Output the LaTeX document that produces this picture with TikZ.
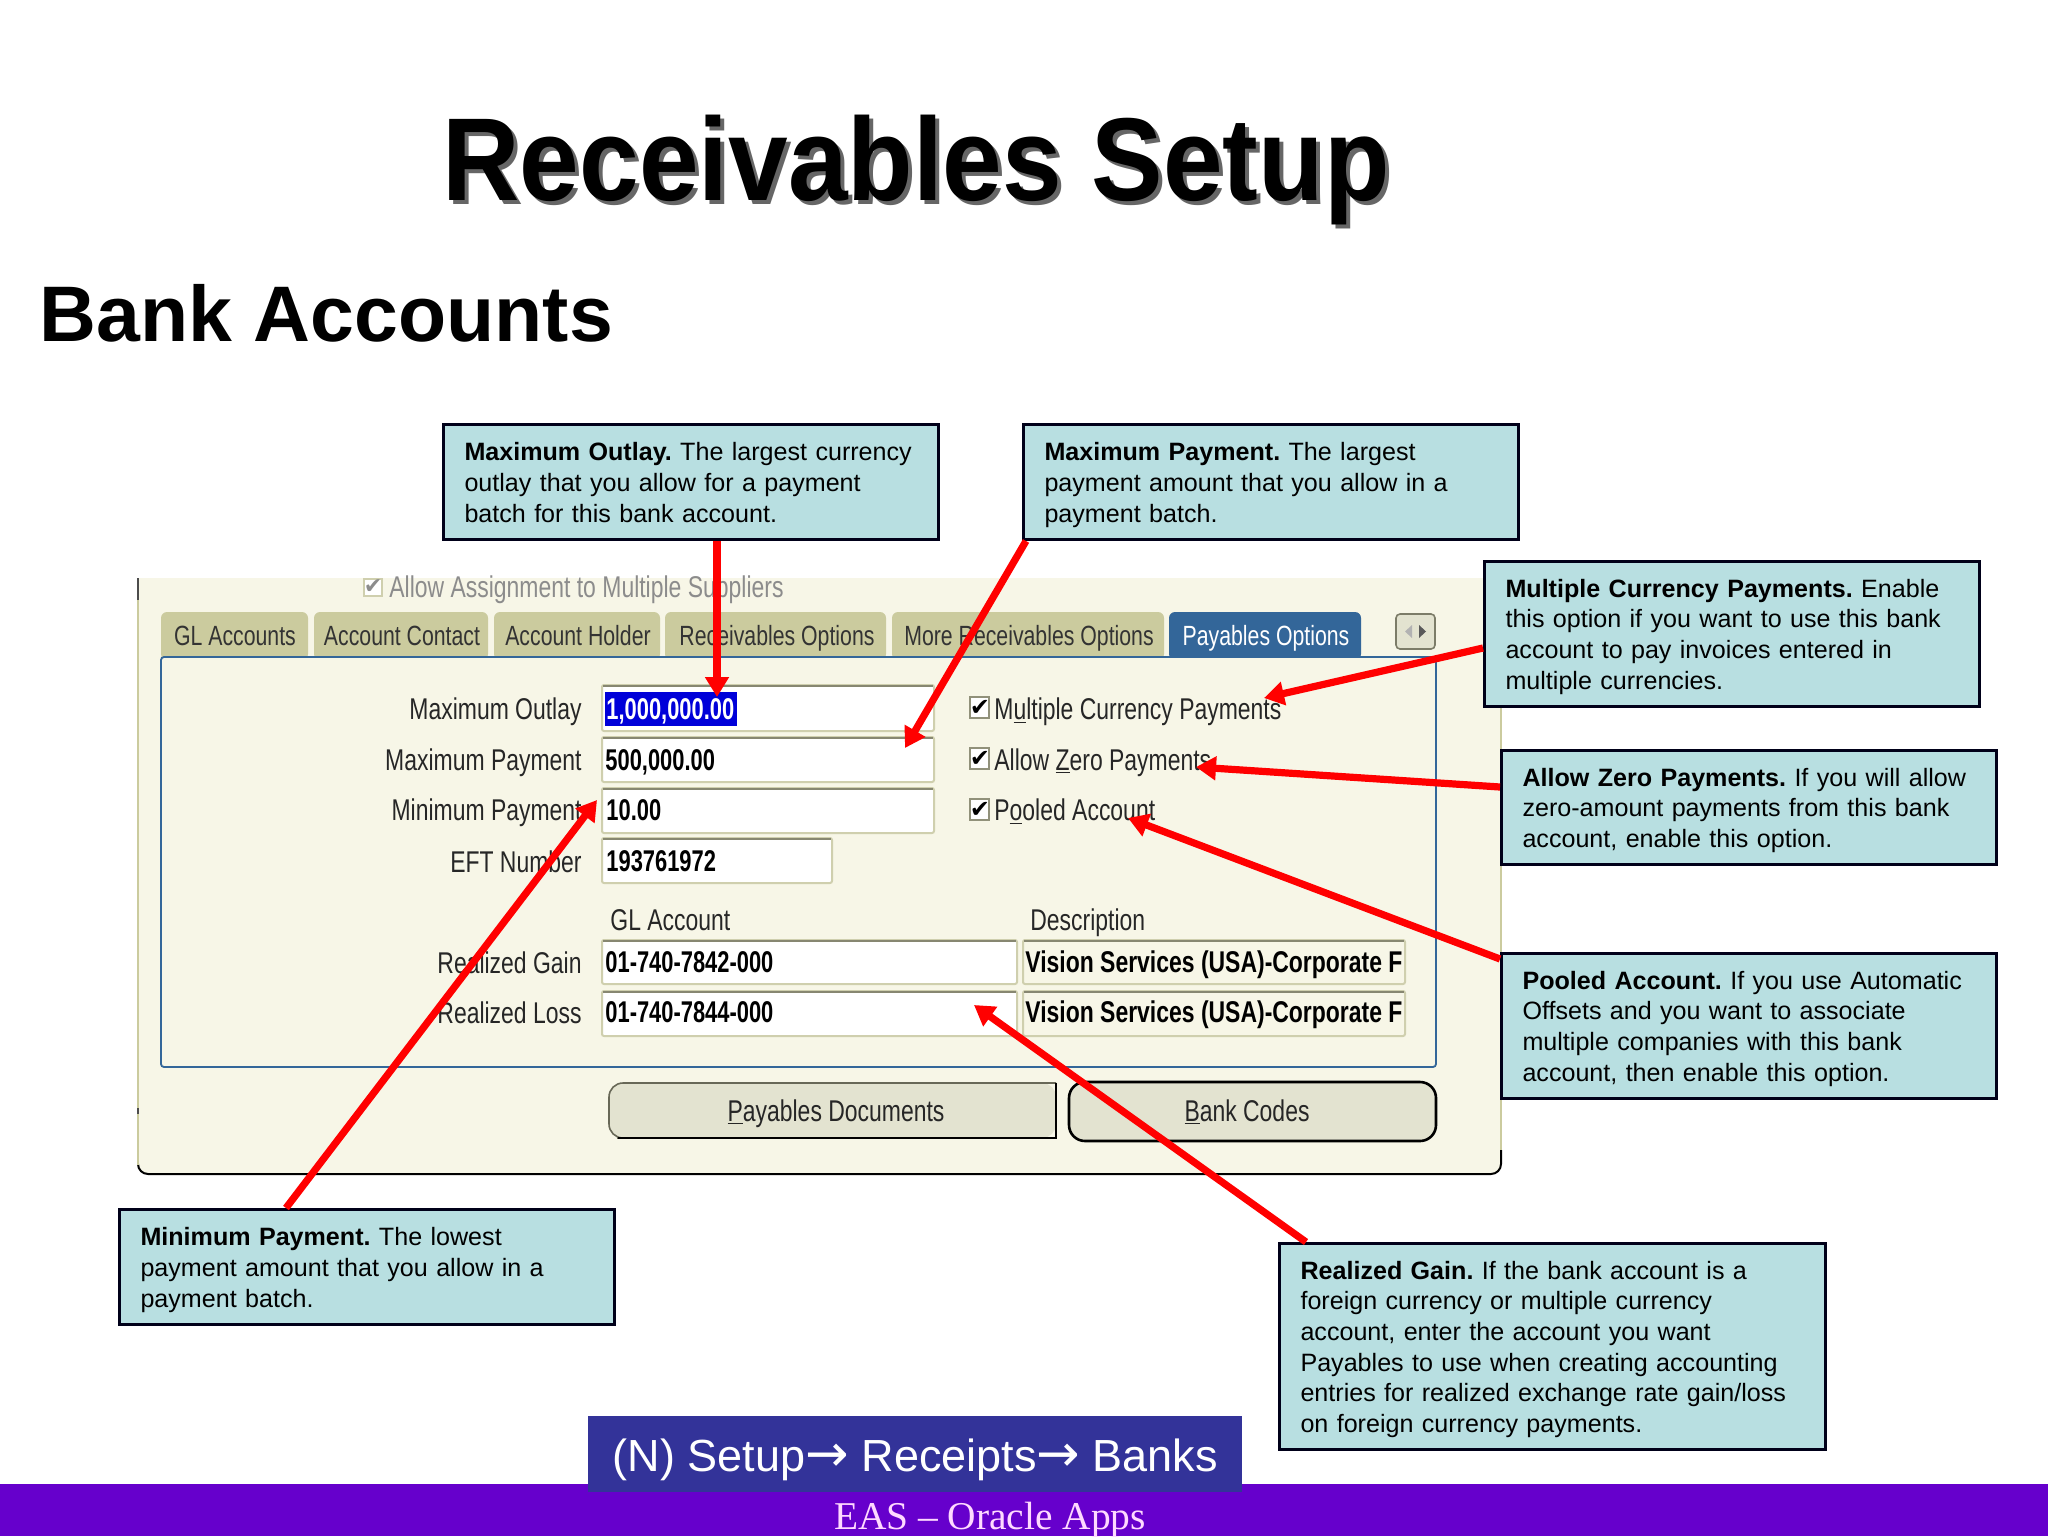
\documentclass[tikz,border=0pt]{standalone}
\usepackage{fontspec}
\setmainfont{Liberation Sans}
\newfontfamily\uif[FakeStretch=0.765]{Liberation Sans}
\newfontfamily\uib[FakeStretch=0.73]{Liberation Sans Bold}
\newfontfamily\uibw[FakeStretch=0.765]{Liberation Sans Bold}
\newfontfamily\serf{Liberation Serif}
\newfontfamily\arrowf{DejaVu Sans}
\usetikzlibrary{arrows.meta,calc}
\definecolor{win}{HTML}{F7F6E7}
\definecolor{tabc}{HTML}{CBCB9E}
\definecolor{blu}{HTML}{336699}
\definecolor{fld}{HTML}{CFCFAE}
\definecolor{btn}{HTML}{E3E3D0}
\definecolor{call}{HTML}{B8DFE1}
\definecolor{navb}{HTML}{333399}
\definecolor{purp}{HTML}{6600CC}
\definecolor{pinkt}{HTML}{FFD9FF}
\newcommand{\lastline}{\rule[-4.2pt]{0pt}{1pt}}
\newcommand{\firstline}{\rule{0pt}{13.5pt}}
\tikzset{
  x=0.5pt,y=-0.5pt,
  callout/.style={draw=black!90!blue,line width=1.5pt,fill=call,anchor=north west,inner xsep=10.5pt,inner ysep=0pt,align=left,minimum width=247.5pt,text width=226.5pt,font=\fontsize{12.55}{15.35}\selectfont\frenchspacing},
  pointer/.style={draw=red,line width=3.6pt,-{Triangle[length=10pt,width=11.5pt]}},
  uilabel/.style={font=\uif\fontsize{15}{18}\selectfont,text=black!85,inner sep=0pt},
  uivalue/.style={font=\uib\fontsize{15}{18}\selectfont,text=black,inner sep=0pt,anchor=base west},
  tabtext/.style={font=\uif\fontsize{13.9}{17}\selectfont,text=black!80,inner sep=0pt,anchor=base},
  tabbox/.style={fill=tabc,rounded corners=3pt},
  fieldbox/.style={draw=fld,line width=1pt,fill=white,rounded corners=1pt},
  topedge/.style={draw=black!35!fld,line width=1pt},
  checkb/.style={draw=fld,line width=.8pt,fill=white},
}
\begin{document}
\begin{tikzpicture}
\useasboundingbox (0,0) rectangle (2048,1536);
\fill[white] (0,0) rectangle (2048,1536);
% titles
\node[text=black!60,font=\bfseries\fontsize{53.6}{60}\selectfont,inner sep=0pt,anchor=base west] (titleshadow) at (446,204) {\scalebox{1}[1.1]{Receivables Setup}};
\node[text=black,font=\bfseries\fontsize{53.6}{60}\selectfont,inner sep=0pt,anchor=base west] (title) at (442,200) {\scalebox{1}[1.1]{Receivables Setup}};
\node[text=black,font=\bfseries\fontsize{39.4}{45}\selectfont,inner sep=0pt,anchor=base west] (subtitle) at (39,341) {Bank Accounts};
% window
\path[fill=win,rounded corners=5pt] (138,578) -- (1501,578) -- (1501,1174) -- (138,1174) -- cycle;
\fill[win] (138,578) rectangle (1501,600);
\draw[black,line width=1pt,rounded corners=5pt] (138,1165) -- (138,1174) -- (1501,1174) -- (1501,1150);
\draw[tabc,line width=.8pt] (138,600) -- (138,1165);
\draw[black!70,line width=1pt] (138,578) -- (138,600);
\draw[black!70,line width=1pt] (138,1108) -- (138,1114);
\draw[tabc,line width=.8pt] (1501,578) -- (1501,1150);
% allow assignment
\path[fill=white,draw=fld,line width=.6pt] (364,579) rectangle (382,596);
\node[inner sep=0pt,text=black!45,font=\arrowf\fontsize{11}{11}\selectfont] (allowcheck) at (373,587) {✔};
\node[uilabel,text=black!45,anchor=base west] (allow) at (389,597) {Allow Assignment to Multiple Suppliers};
% tabs
\path[tabbox] (161,660) -- (161,612) -- (308,612) -- (308,660) -- cycle;
\path[tabbox] (314,660) -- (314,612) -- (488,612) -- (488,660) -- cycle;
\path[tabbox] (494,660) -- (494,612) -- (660,612) -- (660,660) -- cycle;
\path[tabbox] (665,660) -- (665,612) -- (886,612) -- (886,660) -- cycle;
\path[tabbox] (892,660) -- (892,612) -- (1164,612) -- (1164,660) -- cycle;
\path[tabbox,fill=blu] (1169,660) -- (1169,612) -- (1361,612) -- (1361,660) -- cycle;
\fill[win] (161,657) rectangle (1436,664);
\node[tabtext] (tab1) at (235,645) {GL Accounts};
\node[tabtext] (tab2) at (402,645) {Account Contact};
\node[tabtext] (tab3) at (578,645) {Account Holder};
\node[tabtext] (tab4) at (777,645) {Receivables Options};
\node[tabtext] (tab5) at (1029,645) {More Receivables Options};
\node[tabtext,text=white] (tab6) at (1266,645) {Payables Options};
\path[fill=btn,draw=black!40!fld,line width=.8pt,rounded corners=2pt] (1396,614) rectangle (1435,649);
\fill[black!30] (1412,625) -- (1412,638) -- (1405,631.5) -- cycle;
\fill[black!65] (1419,625) -- (1419,638) -- (1426,631.5) -- cycle;
% panel
\draw[blu,line width=.9pt,rounded corners=1.5pt] (161,657) -- (161,1067) -- (1436,1067) -- (1436,657) -- cycle;
% fields
\path[fieldbox] (602,685) rectangle (934,731); \draw[topedge] (603,686) -- (933,686);
\path[fieldbox] (602,737) rectangle (934,782); \draw[topedge] (603,738) -- (933,738);
\path[fieldbox] (602,788) rectangle (934,833); \draw[topedge] (603,789) -- (933,789);
\path[fieldbox] (602,838) rectangle (832,883); \draw[topedge] (603,839) -- (831,839);
\path[fieldbox] (602,940) rectangle (1017,984); \draw[topedge] (603,941) -- (1016,941);
\path[fieldbox] (602,991) rectangle (1017,1036); \draw[topedge] (603,992) -- (1016,992);
\path[fieldbox,fill=win] (1023,940) rectangle (1405,984); \draw[topedge] (1024,941) -- (1404,941);
\path[fieldbox,fill=win] (1023,991) rectangle (1405,1036); \draw[topedge] (1024,992) -- (1404,992);
\fill[blue!85!black] (605,692) rectangle (737,726);
% labels
\node[uilabel,anchor=base east] (l1) at (582,719) {Maximum Outlay};
\node[uilabel,anchor=base east] (l2) at (582,770) {Maximum Payment};
\node[uilabel,anchor=base east] (l3) at (582,820) {Minimum Payment};
\node[uilabel,anchor=base east] (l4) at (582,872) {EFT Number};
\node[uilabel,anchor=base east] (l5) at (582,973) {Realized Gain};
\node[uilabel,anchor=base east] (l6) at (582,1023) {Realized Loss};
\node[uilabel,anchor=base west] (h1) at (610,930) {GL Account};
\node[uilabel,anchor=base west] (h2) at (1030,930) {Description};
% values
\node[uivalue,text=white] (v1) at (606,719) {1,000,000.00};
\node[uivalue] (v2) at (605,770) {500,000.00};
\node[uivalue] (v3) at (606,820) {10.00};
\node[uivalue] (v4) at (606,871) {193761972};
\node[uivalue] (v5) at (605,972) {01-740-7842-000};
\node[uivalue] (v6) at (605,1022) {01-740-7844-000};
\node[uivalue,font=\uibw\fontsize{15}{18}\selectfont] (v7) at (1025,972) {Vision Services (USA)-Corporate F};
\node[uivalue,font=\uibw\fontsize{15}{18}\selectfont] (v8) at (1025,1022) {Vision Services (USA)-Corporate F};
% checks
\path[checkb,draw=black!30!fld] (970,697) rectangle (989,718);
\path[checkb,draw=black!30!fld] (970,748) rectangle (989,769);
\path[checkb,draw=black!30!fld] (970,799) rectangle (989,820);
\node[inner sep=0pt,font=\arrowf\fontsize{12}{12}\selectfont] (c1) at (980,708) {✔};
\node[inner sep=0pt,font=\arrowf\fontsize{12}{12}\selectfont] (c2) at (980,759) {✔};
\node[inner sep=0pt,font=\arrowf\fontsize{12}{12}\selectfont] (c3) at (980,810) {✔};
\node[uilabel,anchor=base west] (k1) at (994,719) {M\underline{u}ltiple Currency Payments};
\node[uilabel,anchor=base west] (k2) at (994,770) {Allow \underline{Z}ero Payments};
\node[uilabel,anchor=base west] (k3) at (994,820) {P\underline{o}oled Account};
% buttons
\path[fill=btn,rounded corners=7pt] (609,1083) -- (1056,1083) -- (1056,1138) -- (609,1138) -- cycle;
\draw[black!50!fld,line width=.8pt,rounded corners=7pt] (617,1138) -- (609,1138) -- (609,1083) -- (1056,1083);
\draw[black,line width=1pt] (618,1138) -- (1056,1138) -- (1056,1083);
\path[fill=btn,draw=black,line width=1.3pt,rounded corners=8pt] (1069,1082) -- (1436,1082) -- (1436,1141) -- (1069,1141) -- cycle;
\node[uilabel,anchor=base] (b1) at (836,1121) {\underline{P}ayables Documents};
\node[uilabel,anchor=base] (b2) at (1247,1121) {\underline{B}ank Codes};
% footer
\fill[purp] (0,1484) rectangle (2048,1536);
\node[fill=navb,text=white,anchor=north west,inner sep=0pt,minimum width=327pt,minimum height=38pt,font=\fontsize{22.5}{28}\selectfont] (nav) at (588,1416) {\raisebox{-8.5pt}[0pt][0pt]{(N) Setup{\arrowf\fontsize{26}{28}\selectfont→} Receipts{\arrowf\fontsize{26}{28}\selectfont→} Banks}};
\node[text=pinkt,inner sep=0pt,anchor=base,font=\serf\fontsize{19.7}{24}\selectfont] (foot) at (990,1529.5) {EAS – Oracle Apps};
% callouts
\node[callout,minimum height=57.5pt] (mo) at (442,423) {\firstline\textbf{Maximum Outlay.} The largest currency\\outlay that you allow for a payment\\batch for this bank account.\lastline};
\node[callout,minimum height=57.5pt] (mp) at (1022,423) {\firstline\textbf{Maximum Payment.} The largest\\payment amount that you allow in a\\payment batch.\lastline};
\node[callout,minimum height=72.5pt] (mc) at (1483,560) {\firstline\textbf{Multiple Currency Payments.} Enable\\this option if you want to use this bank\\account to pay invoices entered in\\multiple currencies.\lastline};
\node[callout,minimum height=57pt] (az) at (1500,749) {\firstline\textbf{Allow Zero Payments.} If you will allow\\zero-amount payments from this bank\\account, enable this option.\lastline};
\node[callout,minimum height=72.5pt] (pa) at (1500,952) {\firstline\textbf{Pooled Account.} If you use Automatic\\Offsets and you want to associate\\multiple companies with this bank\\account, then enable this option.\lastline};
\node[callout,minimum height=57.5pt] (mn) at (118,1208) {\firstline\textbf{Minimum Payment.} The lowest\\payment amount that you allow in a\\payment batch.\lastline};
\node[callout,minimum width=273pt,minimum height=103pt,text width=252pt] (rg) at (1278,1242) {\firstline\textbf{Realized Gain.} If the bank account is a\\foreign currency or multiple currency\\account, enter the account you want\\Payables to use when creating accounting\\entries for realized exchange rate gain/loss\\on foreign currency payments.\lastline};
% arrow targets
\coordinate (tmo) at (717,697);
\coordinate (tmp) at (905,748);
\coordinate (tmc) at (1264,698);
\coordinate (taz) at (1196,767);
\coordinate (tpa) at (1128,818);
\coordinate (tmn) at (597,800);
\coordinate (trg) at (974,1005);
% connectors
\draw[pointer] ($(mo.south west)+(275,0)$) -- (tmo);
\draw[pointer] ($(mp.south west)+(4,0)$) -- (tmp);
\draw[pointer] ($(mc.north west)+(0,88)$) -- (tmc);
\draw[pointer] ($(az.north west)+(0,38)$) -- (taz);
\draw[pointer] ($(pa.north west)+(0,7)$) -- (tpa);
\draw[pointer] ($(mn.north west)+(168,0)$) -- (tmn);
\draw[pointer] ($(rg.north west)+(28,0)$) -- (trg);
\end{tikzpicture}
\end{document}
